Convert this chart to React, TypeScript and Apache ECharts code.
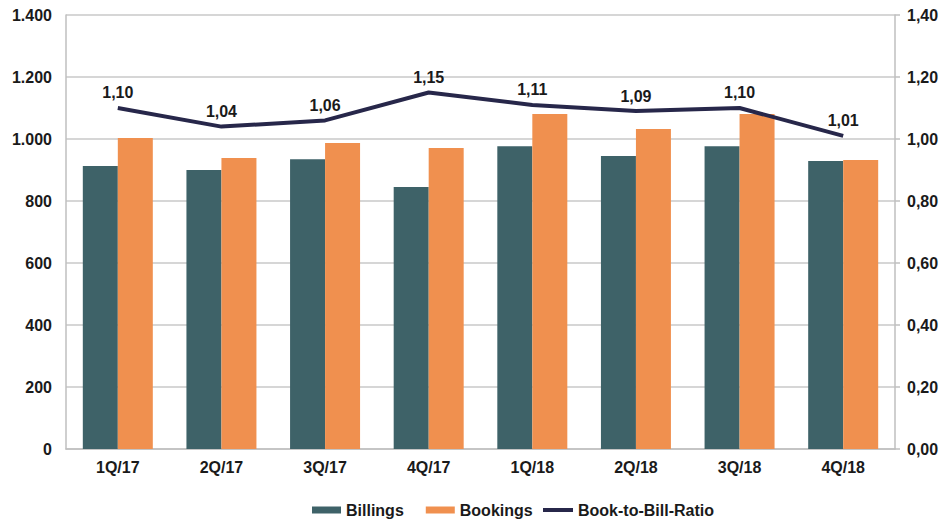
import React, { useEffect, useRef } from "react";
import * as echarts from "echarts";

const categories = ["1Q/17", "2Q/17", "3Q/17", "4Q/17", "1Q/18", "2Q/18", "3Q/18", "4Q/18"];
const billings = [913, 900, 935, 845, 977, 945, 977, 929];
const bookings = [1003, 939, 987, 971, 1081, 1032, 1081, 932];
const ratio = [1.10, 1.04, 1.06, 1.15, 1.11, 1.09, 1.10, 1.01];

const FONT = "'Liberation Sans', Arial, sans-serif";
const FS = 16;

const fmtLeft = (v: number) => {
  const s = String(Math.round(v));
  return s.replace(/\B(?=(\d{3})+(?!\d))/g, ".");
};
const fmtRight = (v: number) => v.toFixed(2).replace(".", ",");

export default function App() {
  const ref = useRef<HTMLDivElement>(null);
  useEffect(() => {
    document.body.style.margin = "0";
    const chart = echarts.init(ref.current!, null, { renderer: "svg" });
    const legendText = { fontFamily: FONT, fontSize: FS, fontWeight: "bold", color: "#1a1a1a" };
    chart.setOption({
      animation: false,
      backgroundColor: "#ffffff",
      grid: { left: 66, right: 47, top: 15, bottom: 73, containLabel: false },
      legend: [
        {
          left: 312,
          top: 502,
          padding: 0,
          itemWidth: 29,
          itemHeight: 7,
          itemGap: 22,
          icon: "rect",
          textStyle: legendText,
          data: ["Billings", "Bookings"],
        },
        {
          left: 543,
          top: 502,
          padding: 0,
          itemWidth: 30,
          itemHeight: 4,
          icon: "rect",
          textStyle: legendText,
          data: ["Book-to-Bill-Ratio"],
        },
      ],
      xAxis: {
        type: "category",
        data: categories,
        axisLine: { lineStyle: { color: "#bfbfbf", width: 1.5 } },
        axisTick: { show: false },
        axisLabel: { fontFamily: FONT, fontSize: FS, fontWeight: "bold", color: "#1a1a1a", margin: 10 },
      },
      yAxis: [
        {
          type: "value",
          min: 0,
          max: 1400,
          interval: 200,
          axisLine: { show: true, lineStyle: { color: "#bfbfbf", width: 1.5 } },
          axisTick: { show: false },
          splitLine: { lineStyle: { color: "#c8c8c8", width: 1.5 } },
          axisLabel: {
            fontFamily: FONT,
            fontSize: FS,
            fontWeight: "bold",
            color: "#1a1a1a",
            margin: 14,
            formatter: (v: number) => fmtLeft(v),
          },
        },
        {
          type: "value",
          min: 0,
          max: 1.4,
          interval: 0.2,
          position: "right",
          axisLine: { show: true, lineStyle: { color: "#bfbfbf", width: 1.5 } },
          axisTick: { show: true, length: 5, lineStyle: { color: "#bfbfbf", width: 1.5 } },
          splitLine: { show: false },
          axisLabel: {
            fontFamily: FONT,
            fontSize: FS,
            fontWeight: "bold",
            color: "#1a1a1a",
            margin: 12,
            formatter: (v: number) => fmtRight(v),
          },
        },
      ],
      series: [
        {
          name: "Billings",
          type: "bar",
          data: billings,
          barWidth: 35,
          barGap: "0%",
          itemStyle: { color: "#3e6268" },
        },
        {
          name: "Bookings",
          type: "bar",
          data: bookings,
          barWidth: 35,
          barGap: "0%",
          itemStyle: { color: "#f0904f" },
        },
        {
          name: "Book-to-Bill-Ratio",
          type: "line",
          yAxisIndex: 1,
          data: ratio,
          symbol: "circle",
          symbolSize: 0.01,
          showSymbol: true,
          lineStyle: { color: "#27274a", width: 4 },
          itemStyle: { color: "#27274a" },
          label: {
            show: true,
            position: "top",
            distance: 7,
            fontFamily: FONT,
            fontSize: FS,
            fontWeight: "bold",
            color: "#1a1a1a",
            formatter: (p: any) => fmtRight(p.value),
          },
        },
      ],
    });
    return () => chart.dispose();
  }, []);
  return <div ref={ref} style={{ width: 942, height: 522 }} />;
}
